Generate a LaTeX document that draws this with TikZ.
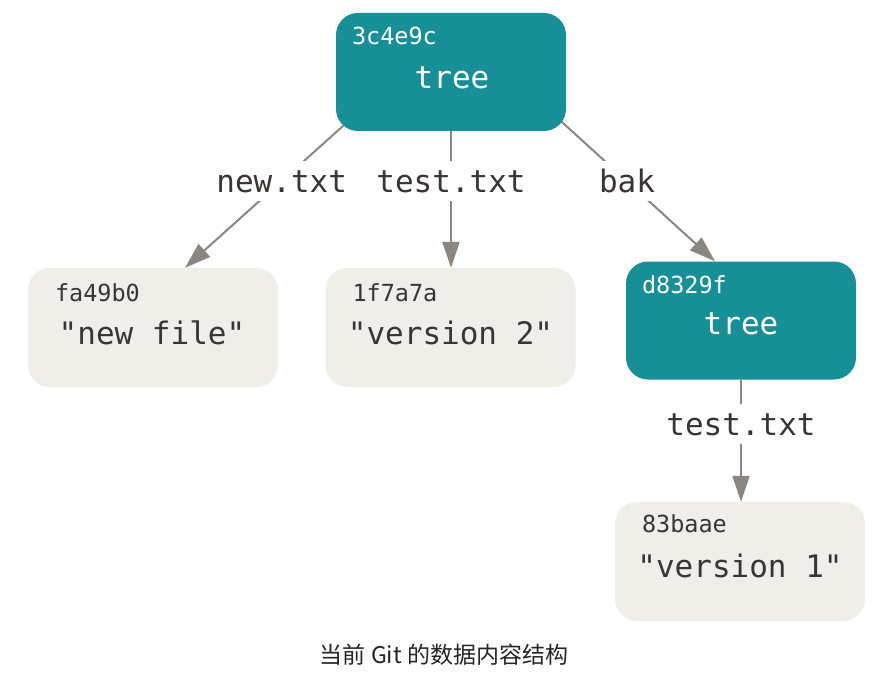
\documentclass[tikz,border=0pt]{standalone}
\usepackage{fontspec}
\setmonofont{DejaVu Sans Mono}
\newfontfamily\cjk{Noto Sans CJK SC}
\usetikzlibrary{arrows.meta,backgrounds,calc}
\definecolor{teal1}{RGB}{23,143,150}
\definecolor{beige1}{RGB}{239,238,232}
\definecolor{ink}{RGB}{58,52,50}
\definecolor{arrowgray}{RGB}{140,134,129}
\begin{document}
\begin{tikzpicture}[x=1pt,y=-1pt,
 treebox/.style={rounded corners=22pt, fill=teal1, minimum width=230pt, minimum height=118pt, inner sep=0pt},
 blobbox/.style={rounded corners=22pt, fill=beige1, minimum width=250pt, minimum height=119pt, inner sep=0pt},
 hashtext/.style={font=\fontsize{23.5}{23.5}\selectfont\ttfamily, anchor=base west, inner sep=0pt},
 bigtext/.style={font=\fontsize{31}{31}\selectfont\ttfamily, anchor=base, inner sep=0pt},
 conn/.style={draw=arrowgray, line width=2pt, -{Triangle[length=26pt,width=17pt]}},
 edgelabel/.style={fill=white, font=\fontsize{31}{31}\selectfont\ttfamily, text=ink, inner xsep=3pt, text height=23pt, text depth=0pt, inner ysep=8.5pt}
]
\useasboundingbox (0,0) rectangle (893,695);

% top tree
\node[treebox] (t1) at (451,72) {};
\node[hashtext, text=white] (t1h) at ($(t1.north west)+(16,32)$) {3c4e9c};
\node[bigtext, text=white] (t1t) at ($(t1.north)+(1,76)$) {tree};

% blob fa49b0
\node[blobbox] (bfa) at (153,327.5) {};
\node[hashtext, text=ink] (bfah) at ($(bfa.north west)+(27,34)$) {fa49b0};
\node[bigtext, text=ink] (bfat) at ($(bfa.north)+(-1,77)$) {"new file"};

% blob 1f7a7a
\node[blobbox] (b1f) at (450.5,327.5) {};
\node[hashtext, text=ink] (b1fh) at ($(b1f.north west)+(27,34)$) {1f7a7a};
\node[bigtext, text=ink] (b1ft) at ($(b1f.north)+(0,77)$) {"version 2"};

% subtree d8329f
\node[treebox] (td8) at (741,320.5) {};
\node[hashtext, text=white] (td8h) at ($(td8.north west)+(16,32)$) {d8329f};
\node[bigtext, text=white] (td8t) at ($(td8.north)+(0,73)$) {tree};

% blob 83baae
\node[blobbox] (b83) at (740,561.5) {};
\node[hashtext, text=ink] (b83h) at ($(b83.north west)+(27,31)$) {83baae};
\node[bigtext, text=ink] (b83t) at ($(b83.north)+(0,76)$) {"version 1"};

% caption
\node[font=\cjk\fontsize{23}{23}\selectfont, text=black!85] (cap) at (444,655) {当前 Git 的数据内容结构};

\begin{scope}[on background layer]
\fill[white] (0,0) rectangle (893,695);
\draw[conn] ($(t1.south west)+(27,-23)$) -- node[edgelabel,pos=0.456] (l1) {new.txt} ($(bfa.north)+(32,0)$);
\draw[conn] (t1.south) -- node[edgelabel,pos=0.365] (l2) {test.txt} (t1.south |- b1f.north);
\draw[conn] ($(t1.south east)+(-25,-28)$) -- node[edgelabel,pos=0.494] (l3) {bak} ($(td8.north)+(-26,0)$);
\draw[conn] (td8.south) -- node[edgelabel,pos=0.36] (l4) {test.txt} (td8.south |- b83.north);
\end{scope}
\end{tikzpicture}
\end{document}
